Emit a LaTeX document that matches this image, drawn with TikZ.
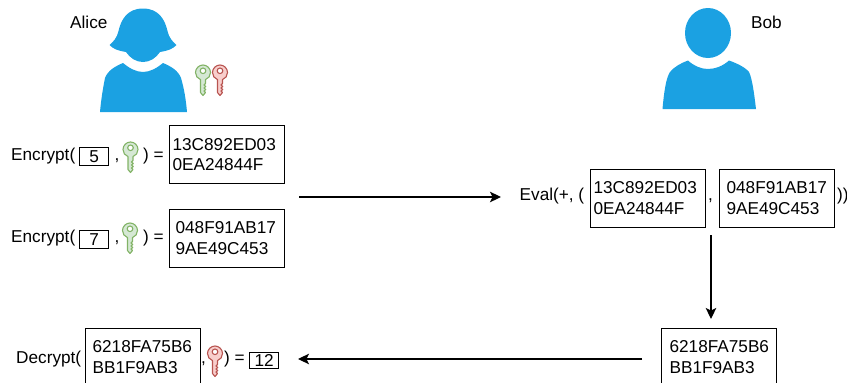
\documentclass[tikz,border=0pt]{standalone}
\usepackage{fontspec}
\setmainfont{Liberation Sans}
\usetikzlibrary{arrows.meta}
\definecolor{userblue}{HTML}{1BA1E2}
\definecolor{keygreenfill}{HTML}{D5E8D4}
\definecolor{keygreendraw}{HTML}{82B366}
\definecolor{keyredfill}{HTML}{F8CECC}
\definecolor{keyreddraw}{HTML}{B85450}
\tikzset{
  >={Stealth[length=11pt,width=10.5pt,inset=2.5pt]},
  lbl/.style={anchor=base west,inner sep=0pt,font=\fontsize{17.2}{20.5}\selectfont},
  cipher/.style={draw=black,line width=1.2pt,anchor=north west,minimum height=58pt,
    inner ysep=0pt,inner xsep=#1,text width=115pt-2*#1,align=left,
    font=\fontsize{17.2}{20.5}\selectfont},
  plainbox/.style={draw=black,line width=1.2pt,anchor=north west,minimum width=29pt,
    minimum height=18pt,inner sep=0pt,font=\fontsize{17.2}{20.5}\selectfont},
  flow/.style={->,line width=1.2pt},
  user/.style={fill=userblue,draw=none},
  keygreen/.style={draw=keygreendraw,fill=keygreenfill,line width=1.1pt},
  keyred/.style={draw=keyreddraw,fill=keyredfill,line width=1.1pt},
  keyicon/.pic={
    \path[pic actions,even odd rule,line join=round]
      (5.5,14.6) .. controls (2.5,13.6) and (0.5,10.8) .. (0.5,7.5)
      .. controls (0.5,3.4) and (3.9,0) .. (8,0)
      .. controls (12.1,0) and (15.5,3.4) .. (15.5,7.5)
      .. controls (15.5,10.8) and (13.5,13.6) .. (10.5,14.6)
      -- (10.5,18.5) -- (9,20) -- (10.8,21.5) -- (9,23) -- (10.8,24.5) -- (9,26)
      -- (10.5,27.5) -- (8,30.5) -- (5.5,27.5) -- cycle
      (8,5.8) circle[radius=2.8];
  },
}
\begin{document}
\begin{tikzpicture}[x=1pt,y=-1pt]
  \useasboundingbox (0,0) rectangle (847,383);
  % alice
  \path[user] (143,8.5) .. controls (127,8.5) and (121,20) .. (118.5,31)
    .. controls (117,38) and (113,42) .. (109.5,45)
    .. controls (113,49) and (119,51) .. (126,52)
    .. controls (130,58) and (136,62) .. (143,62)
    .. controls (150,62) and (156,58) .. (160,52)
    .. controls (167,51) and (173,49) .. (176.5,45)
    .. controls (173,42) and (169,38) .. (167.5,31)
    .. controls (165,20) and (159,8.5) .. (143,8.5) -- cycle;
  \path[user] (123,63) .. controls (129,68) and (136,72) .. (143,72)
    .. controls (150,72) and (157,68) .. (163,63)
    .. controls (170,66) and (178,70) .. (181,78)
    .. controls (184,88) and (186,100) .. (187,112)
    -- (100,112) .. controls (101,100) and (103,88) .. (105,78)
    .. controls (108,70) and (116,66) .. (123,63) -- cycle;
  \pic[keygreen] (keyaliceg) at (195,65) {keyicon};
  \pic[keyred] (keyalicer) at (212,65) {keyicon};
  \node[lbl] (alice) at (70,28) {Alice};
  % bob
  \path[user] (708,33) ellipse[x radius=23,y radius=25];
  \path[user] (688,60.5) .. controls (694,66) and (701,69) .. (708,69)
    .. controls (715,69) and (723,66) .. (729,60.5)
    .. controls (736,63) and (745,67) .. (749,72)
    .. controls (752,78) and (754,92) .. (756,109)
    -- (662.5,109) .. controls (664,92) and (666,78) .. (670,72)
    .. controls (674,67) and (681,63) .. (688,60.5) -- cycle;
  \node[lbl] (bob) at (751,28) {Bob};
  % encrypt rows
  \node[lbl] (enca) at (11,160) {Encrypt(};
  \node[plainbox] (plaina) at (79,147) {5};
  \node[lbl] (commaa) at (114.5,160) {,};
  \pic[keygreen] (keya) at (122.5,142) {keyicon};
  \node[lbl] (eqa) at (143,160) {) =};
  \node[cipher=3pt] (ciphera) at (169,125) {13C892ED03\\0EA24844F};
  \node[lbl] (encb) at (11,242) {Encrypt(};
  \node[plainbox] (plainb) at (79,229.5) {7};
  \node[lbl] (commab) at (114.5,242) {,};
  \pic[keygreen] (keyb) at (122,223) {keyicon};
  \node[lbl] (eqb) at (143,242) {) =};
  \node[cipher=6pt] (cipherb) at (169,208.5) {048F91AB17\\9AE49C453};
  % eval row
  \node[lbl] (evalop) at (519.5,200) {Eval(+, (};
  \node[cipher=3pt] (evala) at (590,168.5) {13C892ED03\\0EA24844F};
  \node[lbl] (evalcomma) at (708,200) {,};
  \node[cipher=7pt] (evalb) at (719,168.5) {048F91AB17\\9AE49C453};
  \node[lbl] (evalend) at (837,200) {))};
  % decrypt row
  \node[lbl] (dec) at (16,363) {Decrypt(};
  \node[cipher=7pt] (cipherc) at (85,327.5) {6218FA75B6\\BB1F9AB3};
  \node[lbl] (commac) at (201,363) {,};
  \pic[keyred] (keyc) at (207,346) {keyicon};
  \node[lbl] (eqc) at (224,363) {) =};
  \node[plainbox,minimum height=16pt] (plainc) at (249,352) {12};
  \node[cipher=8pt] (result) at (661,327.5) {6218FA75B6\\BB1F9AB3};
  % arrows
  \coordinate (fromenc) at (299,197);
  \coordinate (toeval) at (501,197);
  \coordinate (fromeval) at (711,235);
  \coordinate (toresult) at (711,319);
  \coordinate (fromresult) at (642,359);
  \coordinate (todec) at (298,359);
  \draw[flow] (fromenc) -- (toeval);
  \draw[flow] (fromeval) -- (toresult);
  \draw[flow] (fromresult) -- (todec);
\end{tikzpicture}
\end{document}
